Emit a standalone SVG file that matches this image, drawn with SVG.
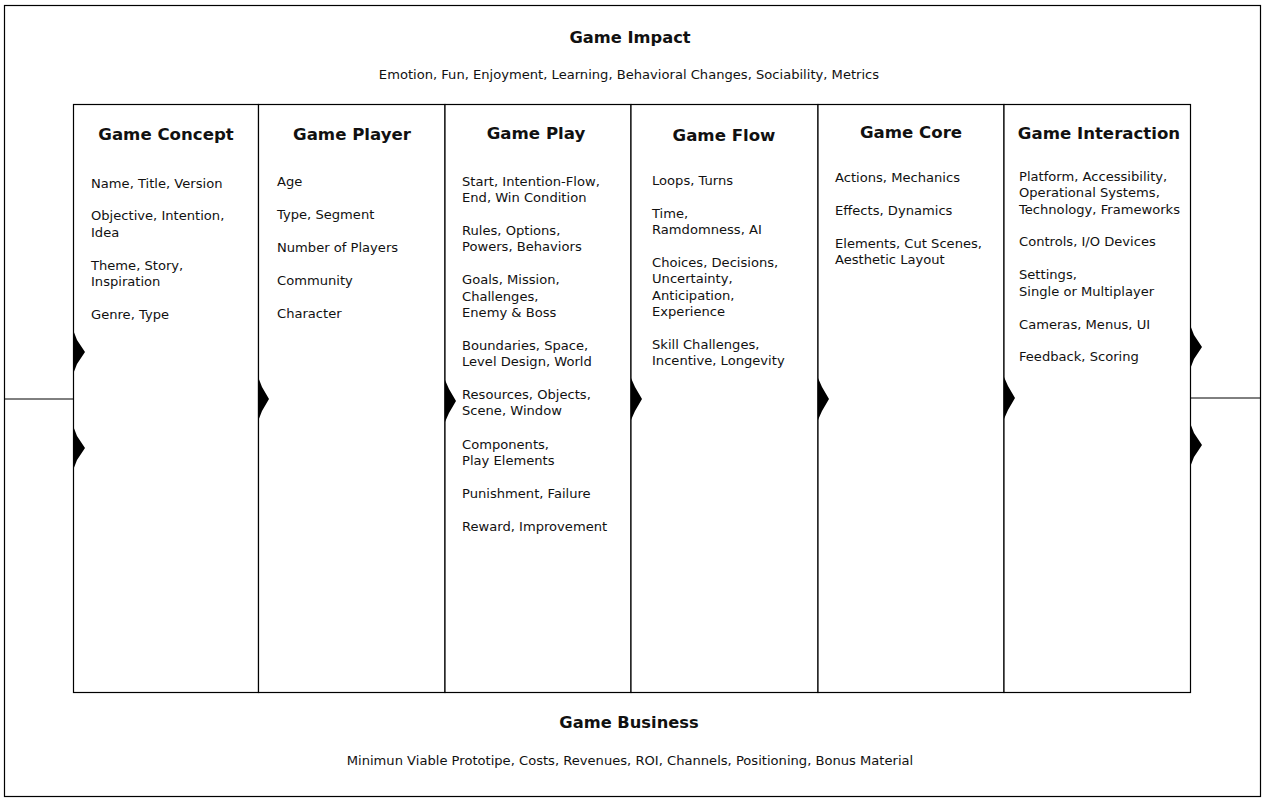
<svg xmlns="http://www.w3.org/2000/svg" width="1266" height="802" viewBox="0 0 1266 802">
<style>
.box{fill:#fff;stroke:#000;stroke-width:1.2}
.ln{fill:none;stroke:#000;stroke-width:1}
.ah{fill:#000;stroke:none}
text{font-family:"DejaVu Sans",Verdana,sans-serif;fill:#111}
.t{font-size:16.6px;font-weight:bold;text-anchor:middle}
.h{font-size:16.3px;font-weight:bold;text-anchor:middle}
.s{font-size:13.1px}
.c{text-anchor:middle}
</style>
<rect x="0" y="0" width="1266" height="802" fill="#fff"/>
<g id="outer">
<rect class="box" x="4.5" y="5.5" width="1256" height="791"/>
<text class="h" x="630" y="43">Game Impact</text>
<text class="s c" x="629" y="79">Emotion, Fun, Enjoyment, Learning, Behavioral Changes, Sociability, Metrics</text>
<text class="h" x="629" y="728">Game Business</text>
<text class="s c" x="630" y="765">Minimun Viable Prototipe, Costs, Revenues, ROI, Channels, Positioning, Bonus Material</text>
</g>
<g id="connectors">
<line class="ln" x1="4.5" y1="399" x2="73.5" y2="399"/>
<line class="ln" x1="1190.5" y1="398" x2="1260.5" y2="398"/>
</g>
<g id="concept">
<rect class="box" x="73.5" y="104.5" width="185" height="588"/>
<text class="t" x="166" y="140">Game Concept</text>
<text class="s" x="91" y="188">Name, Title, Version</text>
<text class="s" x="91" y="220">Objective, Intention,</text>
<text class="s" x="91" y="237">Idea</text>
<text class="s" x="91" y="270">Theme, Story,</text>
<text class="s" x="91" y="286">Inspiration</text>
<text class="s" x="91" y="319">Genre, Type</text>
</g>
<g id="player">
<rect class="box" x="258.5" y="104.5" width="186.5" height="588"/>
<text class="t" x="352" y="140">Game Player</text>
<text class="s" x="277" y="186">Age</text>
<text class="s" x="277" y="219">Type, Segment</text>
<text class="s" x="277" y="252">Number of Players</text>
<text class="s" x="277" y="285">Community</text>
<text class="s" x="277" y="318">Character</text>
</g>
<g id="play">
<rect class="box" x="445" y="104.5" width="186" height="588"/>
<text class="t" x="536" y="139">Game Play</text>
<text class="s" x="462" y="186">Start, Intention-Flow,</text>
<text class="s" x="462" y="202">End, Win Condition</text>
<text class="s" x="462" y="235">Rules, Options,</text>
<text class="s" x="462" y="251">Powers, Behaviors</text>
<text class="s" x="462" y="284">Goals, Mission,</text>
<text class="s" x="462" y="301">Challenges,</text>
<text class="s" x="462" y="317">Enemy &amp; Boss</text>
<text class="s" x="462" y="350">Boundaries, Space,</text>
<text class="s" x="462" y="366">Level Design, World</text>
<text class="s" x="462" y="399">Resources, Objects,</text>
<text class="s" x="462" y="415">Scene, Window</text>
<text class="s" x="462" y="449">Components,</text>
<text class="s" x="462" y="465">Play Elements</text>
<text class="s" x="462" y="498">Punishment, Failure</text>
<text class="s" x="462" y="531">Reward, Improvement</text>
</g>
<g id="flow">
<rect class="box" x="631" y="104.5" width="187" height="588"/>
<text class="t" x="724" y="141">Game Flow</text>
<text class="s" x="652" y="185">Loops, Turns</text>
<text class="s" x="652" y="218">Time,</text>
<text class="s" x="652" y="234">Ramdomness, AI</text>
<text class="s" x="652" y="267">Choices, Decisions,</text>
<text class="s" x="652" y="283">Uncertainty,</text>
<text class="s" x="652" y="300">Anticipation,</text>
<text class="s" x="652" y="316">Experience</text>
<text class="s" x="652" y="349">Skill Challenges,</text>
<text class="s" x="652" y="365">Incentive, Longevity</text>
</g>
<g id="core">
<rect class="box" x="818" y="104.5" width="186" height="588"/>
<text class="t" x="911" y="138">Game Core</text>
<text class="s" x="835" y="182">Actions, Mechanics</text>
<text class="s" x="835" y="215">Effects, Dynamics</text>
<text class="s" x="835" y="248">Elements, Cut Scenes,</text>
<text class="s" x="835" y="264">Aesthetic Layout</text>
</g>
<g id="interaction">
<rect class="box" x="1004" y="104.5" width="186.5" height="588"/>
<text class="t" x="1099" y="139">Game Interaction</text>
<text class="s" x="1019" y="181">Platform, Accessibility,</text>
<text class="s" x="1019" y="197">Operational Systems,</text>
<text class="s" x="1019" y="214">Technology, Frameworks</text>
<text class="s" x="1019" y="246">Controls, I/O Devices</text>
<text class="s" x="1019" y="279">Settings,</text>
<text class="s" x="1019" y="296">Single or Multiplayer</text>
<text class="s" x="1019" y="329">Cameras, Menus, UI</text>
<text class="s" x="1019" y="361">Feedback, Scoring</text>
</g>
<g id="arrowheads">
<polygon class="ah" points="73.5,331 77,340 85,352 77,364 73.5,373"/>
<polygon class="ah" points="73.5,427 77,436 85,448 77,460 73.5,469"/>
<polygon class="ah" points="258.5,378 262,387 269,399 262,411 258.5,420"/>
<polygon class="ah" points="445,380 449,389 456,401 449,413 445,422"/>
<polygon class="ah" points="631,378 635,387 642,399 635,411 631,420"/>
<polygon class="ah" points="818,378 822,387 829,399 822,411 818,420"/>
<polygon class="ah" points="1004,377 1008,386 1015,398 1008,410 1004,419"/>
<polygon class="ah" points="1190.5,326 1194,335 1202,347 1194,359 1190.5,368"/>
<polygon class="ah" points="1190.5,424 1194,433 1202,445 1194,457 1190.5,466"/>
</g>
</svg>
